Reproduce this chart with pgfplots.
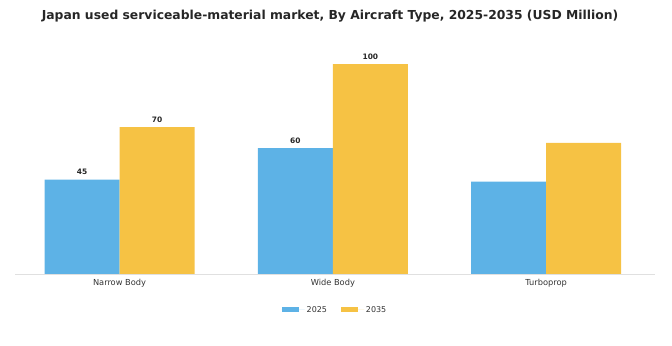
\documentclass[border=0pt]{standalone}
\usepackage{pgfplots}
\pgfplotsset{compat=1.18}
\usepackage{fontspec}
\setmainfont{DejaVu Sans}
\definecolor{cblue}{HTML}{5DB2E6}
\definecolor{cyellow}{HTML}{F6C244}
\begin{document}
\begin{tikzpicture}
\useasboundingbox (-15bp,-72bp) rectangle (657bp,274bp);
\begin{axis}[
  scale only axis,
  width=640bp, height=224bp,
  xmin=-0.49, xmax=2.51, ymin=0, ymax=106.7,
  ybar=0pt, bar width=75bp,
  axis x line=bottom, axis y line=none,
  x axis line style={draw=black!12, line width=0.8pt, -},
  xtick=data, xticklabels={Narrow Body, Wide Body, Turboprop},
  major tick length=0pt,
  ticklabel style={font=\fontsize{8.3}{9}\selectfont, text=black!80},
  xticklabel style={yshift=-2bp},
  ytick=\empty,
  point meta=explicit symbolic,
  nodes near coords,
  every node near coord/.append style={font=\bfseries\fontsize{7.5}{8}\selectfont, text=black!85, yshift=1bp},
  legend style={at={(0.5,-0.16)}, anchor=center, legend columns=2, draw=none,
    font=\fontsize{8}{9}\selectfont, text=black!80,
    /tikz/every even column/.append style={column sep=12bp}},
  legend image code/.code={\fill[#1] (0bp,-2.5bp) rectangle (17bp,2.5bp); \path (0bp,0bp) -- (23bp,0bp);},
]
\addplot[fill=cblue, draw=none] coordinates {(0,45) [45] (1,60) [60] (2,44) []};
\addplot[fill=cyellow, draw=none] coordinates {(0,70) [70] (1,100) [100] (2,62.5) []};
\legend{2025, 2035}
\end{axis}
\node[font=\bfseries\fontsize{12.4}{14}\selectfont, text=black!85] at (315bp,258bp) {Japan used serviceable-material market, By Aircraft Type, 2025-2035 (USD Million)};
\end{tikzpicture}
\end{document}
